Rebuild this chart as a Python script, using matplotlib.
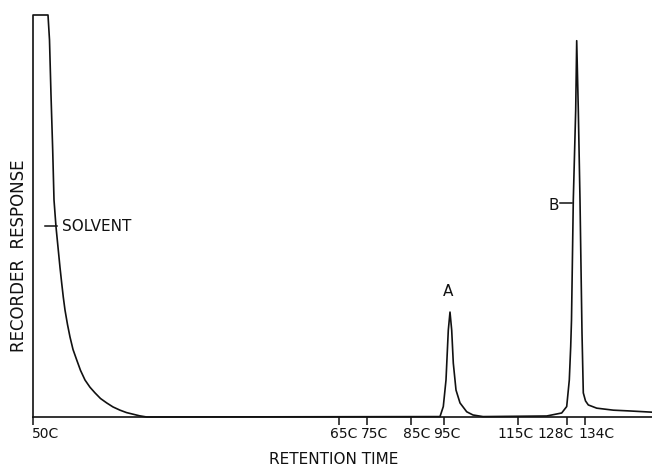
import matplotlib
matplotlib.use("Agg")
import matplotlib.pyplot as plt
from matplotlib import transforms

ret = [0, 0, 15, 16.5, 18, 19.7, 21, 23, 25.3, 27, 28.7, 30.3, 32, 34.5, 37, 40, 43.7, 47.5, 52, 57, 62,
       67.5, 73.7, 80, 87, 93.5, 100, 106.5, 113.7,
       407, 410.3, 413, 415.3, 417, 418.7, 420.3, 423, 427, 433.7, 440, 450,
       513.7, 528.7, 533.7, 536.3, 537.7, 538.5, 539.3, 540.3, 542.7, 543.7,
       545.3, 547, 548, 549, 550.3, 552.5, 555.3, 563.7, 580.3, 597, 619]
resp = [0, 100, 100, 93.8, 80.1, 66.4, 54.0, 47.3, 41.5, 37.2, 33.3, 29.8, 26.6, 23.0, 19.9, 16.8, 14.2, 11.6, 9.2, 7.4, 6.0,
        4.6, 3.5, 2.5, 1.7, 1.1, 0.7, 0.3, 0,
        0.1, 2.6, 9.2, 21.6, 26.1, 21.6, 13.4, 6.7, 3.5, 1.3, 0.5, 0.1,
        0.25, 1.0, 2.6, 9.2, 17.5, 24.1, 37.3, 54.0, 76.4, 93.6,
        76.4, 54.0, 37.3, 20.9, 6.0, 4.0, 3.0, 2.2, 1.7, 1.5, 1.2]

temp_pos = [0, 306, 334, 378, 411, 485, 534, 552]
temp_labels = ["50C", "65C", "75C", "85C", "95C", "115C", "128C", "134C"]
label_shift = [13, 5, 7, 6, 3, -2, -11, 12]  # pixels, labels sit a bit off their ticks

fig = plt.figure(figsize=(6.52, 4.68), dpi=100)
ax = fig.add_axes([33 / 652, 51 / 468, 619 / 652, 402 / 468])

ax.plot(ret, resp, color="#111111", lw=1.2, clip_on=False, solid_joinstyle="round")

ax.set_xlim(0, 619)
ax.set_ylim(0, 100)
for s in ["top", "right", "left"]:
    ax.spines[s].set_visible(False)
ax.spines["bottom"].set_linewidth(1.2)
ax.spines["bottom"].set_color("#111111")
ax.set_yticks([])

ax.set_xticks(temp_pos)
ax.set_xticklabels([])
ax.tick_params(axis="x", direction="out", length=5.5, width=1.1, color="#111111")

base = transforms.blended_transform_factory(ax.transData, ax.transAxes)
for x, lab, dx in zip(temp_pos, temp_labels, label_shift):
    tr = transforms.offset_copy(base, fig=fig, x=dx, y=-17, units="dots")
    ax.text(x, 0, lab, transform=tr, ha="center", va="center", fontsize=10, color="#111111")

# peak labels
ax.plot([12, 24], [47.5, 47.5], color="#111111", lw=1.1)
ax.text(29, 47.5, "SOLVENT", ha="left", va="center", fontsize=11, color="#111111")
ax.text(415, 31.1, "A", ha="center", va="center", fontsize=11, color="#111111")
ax.text(521, 52.7, "B", ha="center", va="center", fontsize=11, color="#111111")
ax.plot([527, 539], [53.2, 53.2], color="#111111", lw=1.1)

fig.text(19 / 652, 1 - 256 / 468, "RECORDER  RESPONSE", rotation=90, ha="center", va="center",
         fontsize=12, color="#111111")
fig.text(334 / 652, 1 - 460 / 468, "RETENTION TIME", ha="center", va="center",
         fontsize=11, color="#111111")

fig.savefig("out.png", dpi=100)
